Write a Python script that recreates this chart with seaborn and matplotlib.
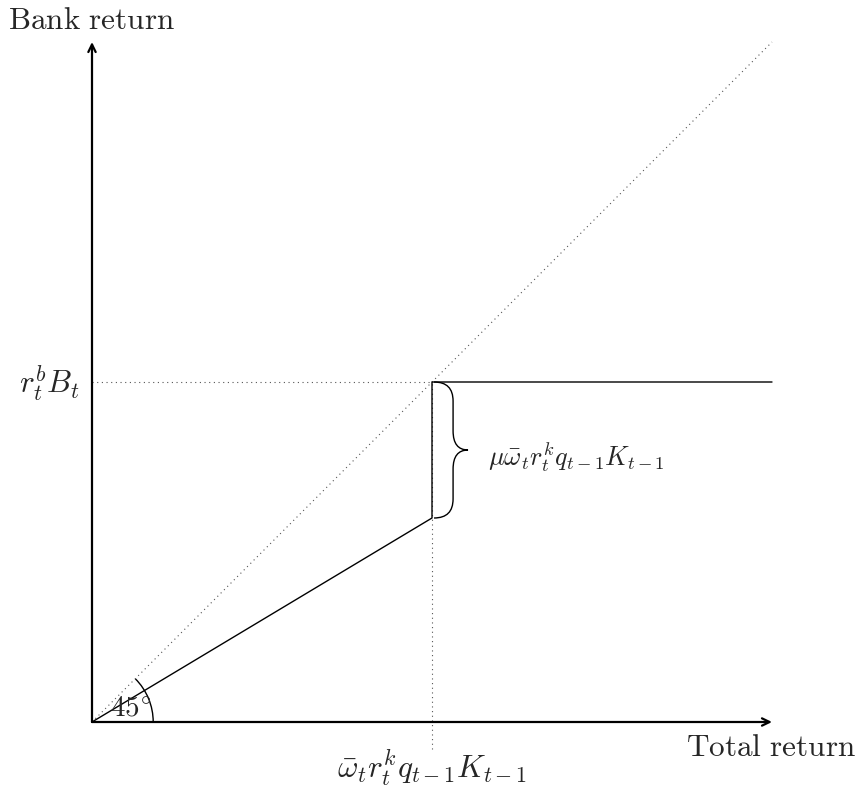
import matplotlib
matplotlib.use("Agg")
import matplotlib.pyplot as plt
import seaborn as sns
import pandas as pd
from matplotlib.path import Path
from matplotlib.patches import PathPatch, Arc

sns.set_theme(style="white")
plt.rcParams["mathtext.fontset"] = "cm"
plt.rcParams["font.family"] = ["DejaVu Serif"]

# data (diagram units)
payoff_x = [0, 5, 5, 10]
payoff_y = [0, 3, 5, 5]
diag_x = [0, 10]
diag_y = [0, 10]
omega_bar = 5.0      # cutoff on total-return axis
bank_level = 5.0     # r_t^b B_t
monitor_low = 3.0    # lower end of the jump
axis_end = 10.0

fig = plt.figure(figsize=(8.58, 7.89), dpi=100)
ax = fig.add_axes([0, 0, 1, 1])
ax.set_xlim(-92 / 68, (858 - 92) / 68)
ax.set_ylim((722 - 789) / 68, 722 / 68)
ax.axis("off")

dot = dict(color="#555555", lw=0.8, linestyle=(0, (1, 3.2)))

# dotted guides
sns.lineplot(x=diag_x, y=diag_y, ax=ax, sort=False, estimator=None, **dot)
ax.plot([0, omega_bar], [bank_level, bank_level], **dot)
ax.plot([omega_bar, omega_bar], [-0.4, bank_level], **dot)

# payoff line
df = pd.DataFrame({"x": payoff_x, "y": payoff_y})
sns.lineplot(data=df, x="x", y="y", ax=ax, sort=False, estimator=None,
             color="black", lw=1.0)

# axes arrows
arrow = dict(arrowstyle="->,head_length=0.45,head_width=0.22", lw=1.6,
             color="black", shrinkA=0, shrinkB=0)
ax.annotate("", xy=(axis_end, 0), xytext=(0, 0), arrowprops=arrow)
ax.annotate("", xy=(0, axis_end), xytext=(0, 0), arrowprops=arrow)

# brace
x0 = omega_bar + 0.03
hw, w = 0.28, 0.5
ym = (bank_level + monitor_low) / 2
verts = [(x0, bank_level), (x0 + hw, bank_level), (x0 + hw, bank_level - hw),
         (x0 + hw, ym + hw),
         (x0 + hw, ym), (x0 + w, ym),
         (x0 + hw, ym), (x0 + hw, ym - hw),
         (x0 + hw, monitor_low + hw),
         (x0 + hw, monitor_low), (x0, monitor_low)]
codes = [Path.MOVETO, Path.CURVE3, Path.CURVE3, Path.LINETO,
         Path.CURVE3, Path.CURVE3, Path.CURVE3, Path.CURVE3,
         Path.LINETO, Path.CURVE3, Path.CURVE3]
ax.add_patch(PathPatch(Path(verts, codes), fill=False, lw=1.0, color="black"))

# angle arc
ax.add_patch(Arc((0, 0), 1.8, 1.8, theta1=0, theta2=45, lw=1.0, color="black"))

fs = 22.5
ax.text(-1.235, 10.32, r"$\mathrm{Bank\ return}$", fontsize=fs, ha="left", va="center")
ax.text(11.24, -0.37, r"$\mathrm{Total\ return}$", fontsize=fs, ha="right", va="center")
ax.text(-0.18, 4.97, r"$r_t^b B_t$", fontsize=fs, ha="right", va="center")
ax.text(omega_bar, -0.68, r"$\bar{\omega}_t r_t^k q_{t-1} K_{t-1}$", fontsize=fs,
        ha="center", va="center")
ax.text(5.82, 3.9, r"$\mu\bar{\omega}_t r_t^k q_{t-1} K_{t-1}$", fontsize=19,
        ha="left", va="center")
ax.text(0.574, 0.2, r"$45^{\circ}$", fontsize=21, ha="center", va="center")

fig.savefig("out.png", dpi=100)
